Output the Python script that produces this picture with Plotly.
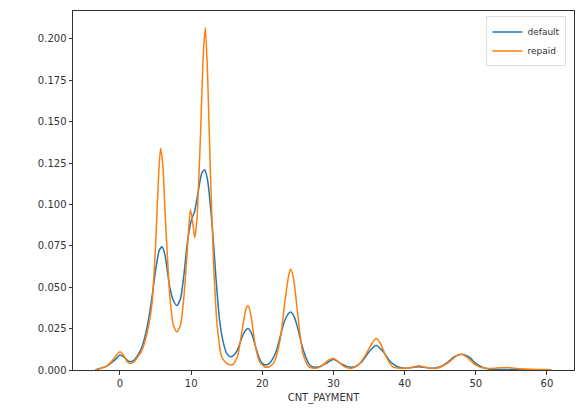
import plotly.graph_objects as go

# Read-off KDE curves (x = CNT_PAYMENT, y = density)
repaid_x = [-3.5, -3, -2, -1, -0.5, 0, 0.5, 1, 1.5, 2, 2.5, 3, 3.5, 4, 4.5, 5, 5.4, 5.7, 6, 6.4, 7, 7.5, 8, 8.5, 9, 9.5, 9.9, 10.2, 10.5, 10.8, 11.3, 11.7, 12, 12.3, 12.7, 13.2, 13.7, 14.3, 15, 15.8, 16.5, 17.2, 17.7, 18, 18.4, 19, 19.6, 20.3, 21, 21.7, 22.5, 23.2, 23.7, 24, 24.4, 25, 25.7, 26.5, 27.5, 28.5, 29.3, 30, 30.7, 31.5, 32.5, 33.5, 34.5, 35.4, 36, 36.6, 37.4, 38.3, 39.5, 41, 42, 43, 44.5, 46, 47.3, 48, 48.7, 50, 51.5, 53, 54.5, 56, 58, 60, 60.6]
repaid_y = [0.0, 0.0005, 0.002, 0.006, 0.009, 0.011, 0.009, 0.005, 0.004, 0.005, 0.008, 0.011, 0.017, 0.026, 0.040, 0.075, 0.115, 0.134, 0.125, 0.090, 0.045, 0.027, 0.023, 0.027, 0.045, 0.075, 0.097, 0.090, 0.080, 0.090, 0.140, 0.190, 0.207, 0.180, 0.120, 0.060, 0.025, 0.008, 0.004, 0.003, 0.008, 0.025, 0.037, 0.039, 0.033, 0.015, 0.005, 0.002, 0.002, 0.005, 0.018, 0.042, 0.057, 0.061, 0.055, 0.033, 0.010, 0.002, 0.001, 0.003, 0.006, 0.007, 0.005, 0.002, 0.001, 0.003, 0.009, 0.016, 0.019, 0.016, 0.008, 0.002, 0.001, 0.0015, 0.0025, 0.0015, 0.001, 0.004, 0.0085, 0.0095, 0.008, 0.003, 0.001, 0.0012, 0.0015, 0.0008, 0.0004, 0.0003, 0.0]

default_x = [-3.5, -3, -2, -1, -0.5, 0, 0.5, 1, 1.5, 2, 2.5, 3, 3.5, 4, 4.5, 5, 5.5, 5.9, 6.3, 7, 7.5, 8, 8.5, 9, 9.5, 10, 10.5, 11, 11.5, 11.9, 12.3, 13, 13.5, 14, 14.5, 15, 15.5, 16, 16.5, 17, 17.5, 18, 18.5, 19, 19.5, 20, 20.5, 21, 21.5, 22, 22.5, 23, 23.5, 24, 24.5, 25, 25.5, 26, 26.5, 27, 28, 29, 30, 31, 32, 33, 34, 35, 36, 37, 38, 39, 40, 41, 42, 43, 44, 45, 46, 47, 48, 49, 50, 51, 52, 54, 56, 58, 60.6]
default_y = [0.0, 0.0008, 0.002, 0.005, 0.007, 0.009, 0.008, 0.006, 0.005, 0.006, 0.009, 0.013, 0.020, 0.030, 0.044, 0.060, 0.072, 0.0745, 0.070, 0.050, 0.042, 0.039, 0.043, 0.058, 0.078, 0.090, 0.096, 0.108, 0.119, 0.121, 0.115, 0.085, 0.055, 0.030, 0.017, 0.010, 0.008, 0.009, 0.012, 0.018, 0.023, 0.025, 0.022, 0.015, 0.008, 0.004, 0.003, 0.004, 0.007, 0.012, 0.020, 0.028, 0.033, 0.035, 0.032, 0.025, 0.016, 0.009, 0.004, 0.002, 0.002, 0.004, 0.0065, 0.004, 0.002, 0.002, 0.005, 0.011, 0.015, 0.011, 0.005, 0.002, 0.001, 0.0015, 0.002, 0.0015, 0.001, 0.002, 0.0045, 0.008, 0.0095, 0.008, 0.004, 0.0015, 0.0005, 0.0003, 0.0002, 0.0001, 0.0]

x_ticks = [0, 10, 20, 30, 40, 50, 60]
y_ticks = [0.0, 0.025, 0.05, 0.075, 0.1, 0.125, 0.15, 0.175, 0.2]
y_tick_labels = ["0.000", "0.025", "0.050", "0.075", "0.100", "0.125", "0.150", "0.175", "0.200"]

fig = go.Figure()
fig.add_trace(go.Scatter(x=default_x, y=default_y, mode="lines", name="default",
                         line=dict(color="#1f77b4", width=1.5, shape="spline", smoothing=0.6)))
fig.add_trace(go.Scatter(x=repaid_x, y=repaid_y, mode="lines", name="repaid",
                         line=dict(color="#ff7f0e", width=1.5, shape="spline", smoothing=0.6)))

axis_common = dict(showgrid=False, zeroline=False, showline=True, linecolor="#333333",
                   linewidth=1, mirror=True, ticks="outside", ticklen=3.5, tickcolor="#333333",
                   tickfont=dict(family="DejaVu Sans", size=10, color="#333333"))

fig.update_layout(
    width=582, height=412,
    margin=dict(l=73, r=8, t=11, b=42),
    paper_bgcolor="white", plot_bgcolor="white",
    xaxis=dict(range=[-6.6, 63.8], tickvals=x_ticks,
               title=dict(text="CNT_PAYMENT", font=dict(family="DejaVu Sans", size=10, color="#333333"), standoff=6),
               **axis_common),
    yaxis=dict(range=[0, 0.2169], tickvals=y_ticks, ticktext=y_tick_labels, **axis_common),
    legend=dict(x=0.985, y=0.985, xanchor="right", yanchor="top",
                bgcolor="rgba(255,255,255,0.8)", bordercolor="#dddddd", borderwidth=1,
                font=dict(family="DejaVu Sans", size=9, color="#333333"),
                itemwidth=30, tracegroupgap=0),
    showlegend=True,
)

fig.write_html("out.html")
